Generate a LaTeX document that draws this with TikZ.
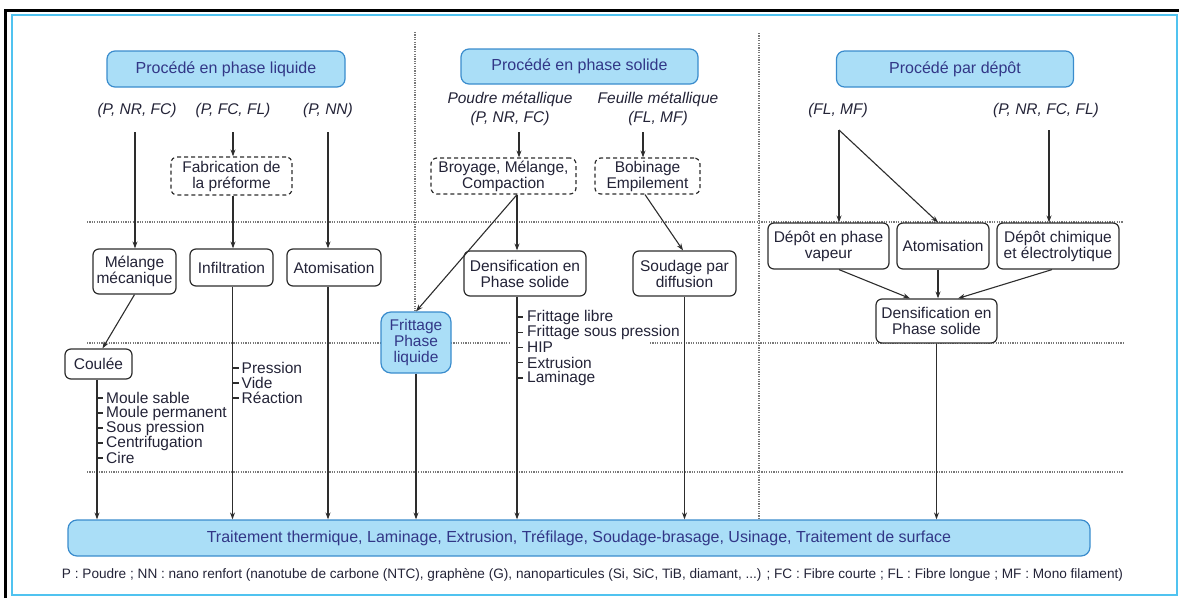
\documentclass[tikz,border=0pt]{standalone}
\usepackage{fontspec}
\usepackage{graphicx}
\setmainfont{Liberation Sans}
\usetikzlibrary{arrows.meta}
\definecolor{bfill}{RGB}{170,222,247}
\definecolor{bdraw}{RGB}{58,140,205}
\definecolor{btext}{RGB}{50,55,135}
\definecolor{ktext}{RGB}{35,35,55}
\definecolor{cframe}{RGB}{80,195,240}
\definecolor{lnc}{RGB}{45,45,45}
\definecolor{sepc}{RGB}{120,120,120}
\newcommand{\mfont}{\fontsize{15.5}{16}\selectfont}
\newcommand{\hfont}{\fontsize{16}{16}\selectfont}
\tikzset{
  hdr/.style={draw=bdraw, fill=bfill, line width=1.2pt, rounded corners=8pt, text=btext, font=\hfont, align=center, inner sep=0pt},
  boxk/.style={draw=lnc, fill=white, line width=1.2pt, rounded corners=6pt, text=ktext, font=\mfont, align=center, inner sep=0pt},
  dbox/.style={boxk, dash pattern=on 4pt off 3pt},
  lbl/.style={font=\fontsize{15.5}{19}\selectfont\itshape, text=ktext, align=center, inner sep=0pt},
  conn/.style={draw=lnc, line width=1.1pt, -{Stealth[length=7pt,width=5pt]}},
  plainln/.style={draw=lnc, line width=1.1pt},
  sepln/.style={draw=sepc, line width=1.2pt, dash pattern=on 1.2pt off 1.2pt},
  item/.style={anchor=west, inner sep=0pt, font=\mfont, text=ktext},
}
\begin{document}
\begin{tikzpicture}[x=1pt,y=-1pt]
\useasboundingbox (0,0) rectangle (1179,598);
% frame
\draw[cframe, line width=1.8pt] (12,15) rectangle (1177,595);
\draw[black, line width=2.5pt] (5.5,598) -- (5.5,10.5) -- (1179,10.5);
% separators
\draw[sepln] (415,32) -- (415,311);
\draw[sepln] (759,33) -- (759,520);
\draw[sepln] (87,222) -- (1123,222);
\draw[sepln] (87,343) -- (381,343);
\draw[sepln] (451,343) -- (510,343);
\draw[sepln] (650,343) -- (1123,343);
\draw[sepln] (87,472) -- (1123,472);
% headers
\node[hdr, minimum width=238pt, minimum height=36pt] (h1) at (226,69) {Procédé en phase liquide};
\node[hdr, minimum width=237pt, minimum height=35pt] (h2) at (579.5,66.5) {Procédé en phase solide};
\node[hdr, minimum width=237pt, minimum height=36pt] (h3) at (955,69) {Procédé par dépôt};
% labels
\node[lbl] (l1) at (137,110) {(P, NR, FC)};
\node[lbl] (l2) at (233,110) {(P, FC, FL)};
\node[lbl] (l3) at (328,110) {(P, NN)};
\node[lbl] (pm) at (510,108.5) {Poudre métallique\\(P, NR, FC)};
\node[lbl] (fm) at (658,108.5) {Feuille métallique\\(FL, MF)};
\node[lbl] (l4) at (838,110) {(FL, MF)};
\node[lbl] (l5) at (1046,110) {(P, NR, FC, FL)};
\coordinate (c1) at (135,132);
\coordinate (c2) at (233,132);
\coordinate (c3) at (328,132);
\coordinate (c4) at (519,132);
\coordinate (c5) at (643,132);
\coordinate (c6) at (839,130);
\coordinate (c7) at (1049,130);
% dashed boxes
\node[dbox, minimum width=121pt, minimum height=38pt] (fab) at (231.5,176) {Fabrication de\\la préforme};
\node[dbox, minimum width=145pt, minimum height=36pt] (broy) at (503.5,176) {Broyage, Mélange,\\Compaction};
\node[dbox, minimum width=105pt, minimum height=36pt] (bob) at (647.5,176) {Bobinage\\Empilement};
% second row
\node[boxk, minimum width=83pt, minimum height=45pt] (mel) at (134.5,271.5) {Mélange\\mécanique};
\node[boxk, minimum width=83pt, minimum height=37pt] (inf) at (231.5,267.5) {Infiltration};
\node[boxk, minimum width=94pt, minimum height=37pt] (ato1) at (334,267.5) {Atomisation};
\node[boxk, minimum width=122pt, minimum height=45pt] (dens1) at (525,273.5) {Densification en\\Phase solide};
\node[boxk, minimum width=103pt, minimum height=45pt] (soud) at (684.5,273.5) {Soudage par\\diffusion};
\node[boxk, minimum width=121pt, minimum height=46pt] (dep) at (828.5,246) {Dépôt en phase\\vapeur};
\node[boxk, minimum width=92pt, minimum height=46pt] (ato2) at (943,246) {Atomisation};
\node[boxk, minimum width=122pt, minimum height=46pt] (chim) at (1058,246) {Dépôt chimique\\et électrolytique};
\node[boxk, minimum width=121pt, minimum height=44pt] (dens2) at (936.5,321) {Densification en\\Phase solide};
\node[boxk, minimum width=67pt, minimum height=30pt] (cou) at (98.5,364) {Coulée};
\node[hdr, font=\mfont, rounded corners=10pt, minimum width=70pt, minimum height=61pt] (frit) at (416,342.5) {Frittage\\Phase\\liquide};
% bottom
\node[hdr, minimum width=1022pt, minimum height=36pt, rounded corners=9pt] (bot) at (579,538) {Traitement thermique, Laminage, Extrusion, Tréfilage, Soudage-brasage, Usinage, Traitement de surface};
\node[inner sep=0pt, text=ktext] (fn) at (592.5,575) {\resizebox{1061pt}{!}{\fontsize{11}{12}\selectfont P : Poudre ; NN : nano renfort (nanotube de carbone (NTC), graphène (G), nanoparticules (Si, SiC, TiB, diamant, ...) ; FC : Fibre courte ; FL : Fibre longue ; MF : Mono filament)}};
% connectors top
\draw[conn] (c1) -- (c1 |- mel.north);
\draw[conn] (c2) -- (c2 |- fab.north);
\draw[conn] (c2 |- fab.south) -- (c2 |- inf.north);
\draw[conn] (c3) -- (c3 |- ato1.north);
\draw[conn] (c4) -- (c4 |- broy.north);
\draw[conn] (c5) -- (c5 |- bob.north);
\draw[conn] (mel.south) -- ([xshift=4pt]cou.north);
\coordinate (bs) at ([xshift=13.5pt]broy.south);
\draw[conn] (bs) -- (frit.north);
\draw[conn] (bs) -- (bs |- dens1.north);
\draw[conn] ([xshift=-2.5pt]bob.south) -- ([xshift=-1.5pt]soud.north);
\draw[conn] (c6) -- (c6 |- dep.north);
\draw[conn] (c6) -- ([xshift=-5pt]ato2.north);
\draw[conn] (c7) -- (c7 |- chim.north);
\draw[conn] ([xshift=10.5pt]dep.south) -- ([xshift=-26.5pt]dens2.north);
\draw[conn] ([xshift=-5pt]ato2.south) -- ([xshift=-5pt]ato2.south |- dens2.north);
\draw[conn] ([xshift=-6pt]chim.south) -- ([xshift=21.5pt]dens2.north);
% connectors to bottom
\coordinate (k1) at ([xshift=-1.5pt]cou.south);
\coordinate (k2) at ([xshift=1pt]inf.south);
\draw[conn] (k1) -- (k1 |- bot.north);
\draw[conn] (k2) -- (k2 |- bot.north);
\draw[conn] (c3 |- ato1.south) -- (c3 |- bot.north);
\draw[conn] (frit.south) -- (frit.south |- bot.north);
\draw[conn] (bs |- dens1.south) -- (bs |- bot.north);
\draw[conn] (soud.south) -- (soud.south |- bot.north);
\draw[conn] (dens2.south) -- (dens2.south |- bot.north);
% lists
\foreach \yy/\tx in {398/Moule sable, 413/Moule permanent, 428/Sous pression, 443/Centrifugation, 458/Cire} {
  \draw[plainln] (k1 |- 0,\yy) -- ++(6,0);
  \node[item] at (106,\yy) {\tx};
}
\foreach \yy/\tx in {368/Pression, 383/Vide, 398/Réaction} {
  \draw[plainln] (k2 |- 0,\yy) -- ++(6,0);
  \node[item] at (241.5,\yy) {\tx};
}
\foreach \yy/\tx in {317/Frittage libre, 332.25/Frittage sous pression, 347.5/HIP, 362.75/Extrusion, 378/Laminage} {
  \draw[plainln] (bs |- 0,\yy) -- ++(6,0);
  \node[item] at (527,\yy) {\tx};
}
\end{tikzpicture}
\end{document}
